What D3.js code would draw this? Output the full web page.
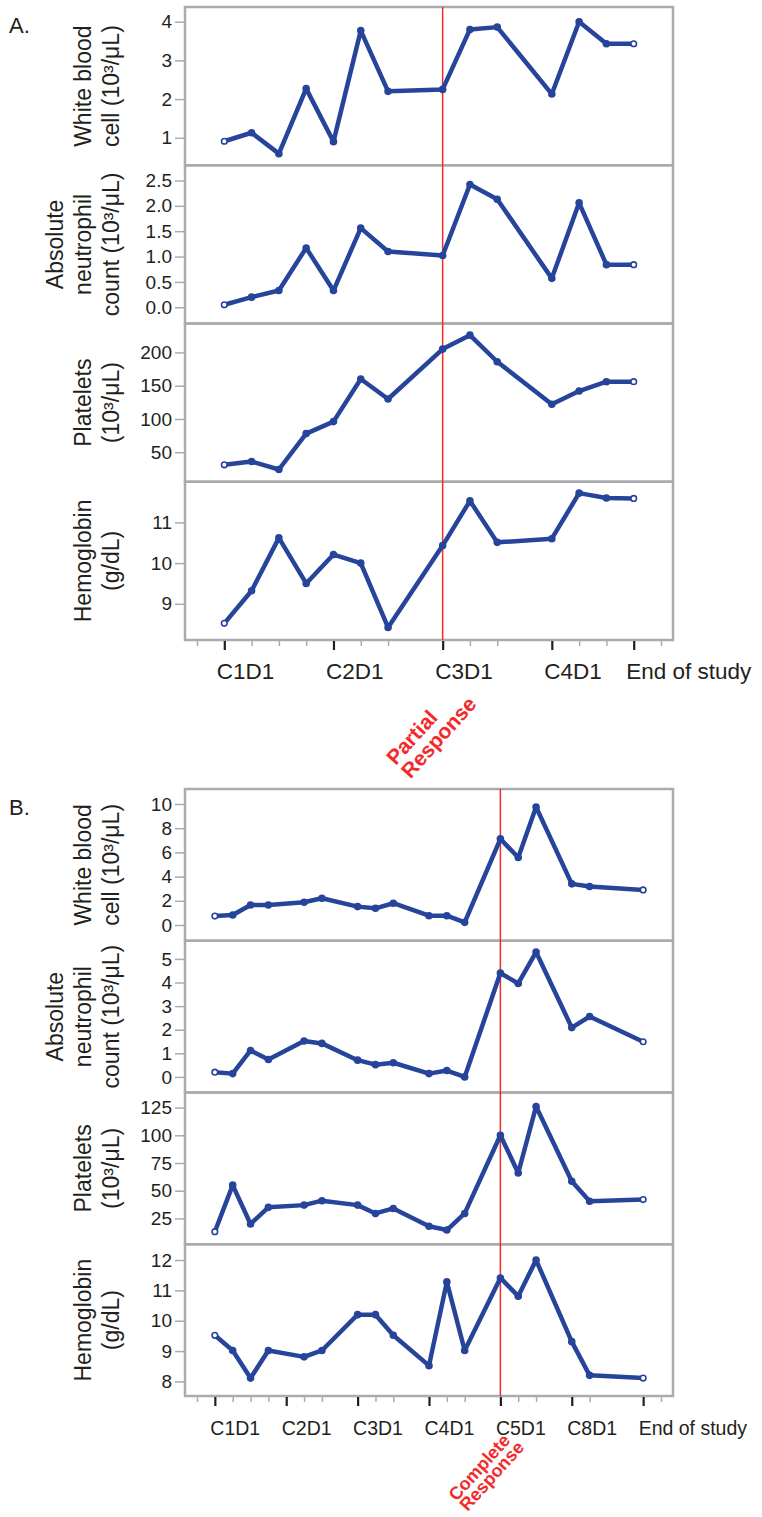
<!DOCTYPE html>
<html>
<head>
<meta charset="utf-8">
<script src="https://d3js.org/d3.v7.min.js"></script>
<style>
  body { margin: 0; background: #fff; }
  svg { font-family: "Liberation Sans", Arial, sans-serif; }
  .frame { fill: none; stroke: #a9acae; stroke-width: 2.5; }
  .lab { fill: #231f20; }
</style>
</head>
<body>
<svg id="chart" width="762" height="1517"></svg>
<script>
// ---- panel A data (visit index on x) ----
const visitsA = [1, 2, 3, 4, 5, 6, 7, 9, 10, 11, 13, 14, 15, 16];
const wbcA = [0.91, 1.13, 0.59, 2.27, 0.90, 3.77, 2.20, 2.25, 3.80, 3.86, 2.13, 4.00, 3.43, 3.43];
const ancA = [0.05, 0.20, 0.33, 1.17, 0.33, 1.56, 1.10, 1.02, 2.42, 2.13, 0.57, 2.06, 0.84, 0.84];
const pltA = [31, 36, 24, 78, 96, 160, 130, 205, 226, 186, 122, 142, 156, 156];
const hgbA = [8.52, 9.32, 10.62, 9.50, 10.21, 10.00, 8.42, 10.43, 11.53, 10.51, 10.60, 11.72, 11.60, 11.59];
const majorA = [1, 5, 9, 13, 16];
const labelsA = ["C1D1", "C2D1", "C3D1", "C4D1", "End of study"];
const responseA = 9;

// ---- panel B data ----
const visitsB = [0, 1, 2, 3, 5, 6, 8, 9, 10, 12, 13, 14, 16, 17, 18, 20, 21, 24];
const wbcB = [0.74, 0.83, 1.66, 1.66, 1.88, 2.21, 1.52, 1.38, 1.80, 0.77, 0.77, 0.22, 7.12, 5.58, 9.75, 3.40, 3.18, 2.90];
const ancB = [0.20, 0.14, 1.12, 0.74, 1.52, 1.42, 0.71, 0.52, 0.60, 0.14, 0.27, 0.00, 4.40, 3.96, 5.29, 2.09, 2.56, 1.49];
const pltB = [13, 55, 20, 35, 37, 41, 37, 29.5, 34, 18, 14.5, 29.5, 100, 66, 126, 58.5, 40.5, 42];
const hgbB = [9.52, 9.02, 8.11, 9.02, 8.81, 9.02, 10.2, 10.2, 9.52, 8.52, 11.28, 9.02, 11.41, 10.81, 12.0, 9.31, 8.2, 8.11];
const majorB = [0, 4, 8, 12, 16, 20, 24];
const labelsB = ["C1D1", "C2D1", "C3D1", "C4D1", "C5D1", "C8D1", "End of study"];
const responseB = 16;

// y tick values
const wbcTicksA = [1, 2, 3, 4];
const ancTicksA = [0, 0.5, 1, 1.5, 2, 2.5];
const pltTicksA = [50, 100, 150, 200];
const hgbTicksA = [9, 10, 11];
const wbcTicksB = [0, 2, 4, 6, 8, 10];
const ancTicksB = [0, 1, 2, 3, 4, 5];
const pltTicksB = [25, 50, 75, 100, 125];
const hgbTicksB = [8, 9, 10, 11, 12];

const titles = [
  ["White blood", "cell (10³/μL)"],
  ["Absolute", "neutrophil", "count (10³/μL)"],
  ["Platelets", "(10³/μL)"],
  ["Hemoglobin", "(g/dL)"]
];

const svg = d3.select("#chart");
const blue = "#27449b";
const red = "#f42a2a";
const frameLeft = 185, frameRight = 673;

function drawFigure(opt) {
  const g = svg.append("g");
  const x = d3.scaleLinear().domain(opt.xDomain).range([frameLeft + 12, frameRight - 12]);
  const panelH = (opt.bottom - opt.top) / opt.series.length;

  opt.series.forEach((s, i) => {
    const top = opt.top + i * panelH;
    const y = d3.scaleLinear().domain(s.domain).range([top + panelH, top]);

    g.append("rect").attr("class", "frame")
      .attr("x", frameLeft).attr("y", top)
      .attr("width", frameRight - frameLeft).attr("height", panelH);

    const ay = g.append("g").attr("transform", `translate(${frameLeft - 1},0)`)
      .call(d3.axisLeft(y).tickValues(s.ticks).tickSize(9).tickPadding(3)
        .tickFormat(d3.format(s.fmt)));
    ay.select(".domain").remove();
    ay.selectAll("line").attr("stroke", "#a9acae").attr("stroke-width", 1.5);
    ay.selectAll("text").attr("class", "lab").attr("font-size", 19).attr("font-family", null);

    const t = g.append("text").attr("class", "lab")
      .attr("transform", `translate(0,${top + panelH / 2}) rotate(-90)`)
      .attr("text-anchor", "middle").attr("font-size", 23);
    s.title.forEach((line, j) => {
      t.append("tspan").attr("x", 0).attr("y", 119 - (s.title.length - 1 - j) * 28).text(line);
    });
  });

  // response marker
  g.append("line")
    .attr("x1", x(opt.response)).attr("x2", x(opt.response))
    .attr("y1", opt.top).attr("y2", opt.bottom)
    .attr("stroke", red).attr("stroke-width", 1.5);

  opt.series.forEach((s, i) => {
    const top = opt.top + i * panelH;
    const y = d3.scaleLinear().domain(s.domain).range([top + panelH, top]);
    const pts = opt.visits.map((v, k) => ({ v: v, val: s.values[k] }));
    g.append("path").datum(pts)
      .attr("fill", "none").attr("stroke", blue).attr("stroke-width", 4.5)
      .attr("stroke-linejoin", "round")
      .attr("d", d3.line().x(d => x(d.v)).y(d => y(d.val)));
    g.selectAll(null).data(pts).join("circle")
      .attr("cx", d => x(d.v)).attr("cy", d => y(d.val))
      .attr("r", (d, k) => (k === 0 || k === pts.length - 1) ? 2.8 : 3)
      .attr("fill", (d, k) => (k === 0 || k === pts.length - 1) ? "#fff" : blue)
      .attr("stroke", blue).attr("stroke-width", 1.6);
  });

  // x axis: minor ticks at visits, major with labels
  const minor = [opt.xDomain[0], ...opt.visits, opt.xDomain[1]].filter(v => !opt.major.includes(v));
  const axMinor = g.append("g").attr("transform", `translate(0,${opt.bottom + 1})`)
    .call(d3.axisBottom(x).tickValues(minor).tickSize(5).tickFormat(""));
  axMinor.select(".domain").remove();
  axMinor.selectAll("line").attr("stroke", "#a9acae").attr("stroke-width", 1.5);

  const axMajor = g.append("g").attr("transform", `translate(0,${opt.bottom + 1})`)
    .call(d3.axisBottom(x).tickValues(opt.major).tickSize(9).tickPadding(0)
      .tickFormat((d, k) => opt.labels[k]));
  axMajor.select(".domain").remove();
  axMajor.selectAll("line").attr("stroke", "#231f20").attr("stroke-width", 2.2);
  axMajor.selectAll("text").attr("class", "lab")
    .attr("text-anchor", "start").attr("x", opt.labelDx)
    .attr("y", opt.labelY).attr("dy", null)
    .attr("font-size", opt.labelSize).attr("font-family", null);

  // response annotation
  const ann = g.append("text")
    .attr("transform", `translate(${x(opt.response) + opt.annDx},${opt.annY}) rotate(-48)`)
    .attr("fill", red).attr("font-weight", "bold").attr("font-size", opt.annSize);
  opt.annotation.forEach((line, j) => {
    ann.append("tspan").attr("x", 0).attr("y", j * opt.annGap).text(line);
  });

  svg.append("text").attr("class", "lab").attr("x", 9).attr("y", opt.top + 26)
    .attr("font-size", 22).text(opt.letter);
}

drawFigure({
  letter: "A.", top: 7, bottom: 640, xDomain: [0, 17],
  visits: visitsA, major: majorA, labels: labelsA, response: responseA,
  labelDx: -8, labelY: 38, labelSize: 22.5,
  annotation: ["Partial", "Response"], annDx: -47, annY: 766, annSize: 21, annGap: 20,
  series: [
    { values: wbcA, ticks: wbcTicksA, domain: [0.29, 4.38], fmt: "d", title: titles[0] },
    { values: ancA, ticks: ancTicksA, domain: [-0.32, 2.80], fmt: ".1f", title: titles[1] },
    { values: pltA, ticks: pltTicksA, domain: [5.6, 243.5], fmt: "d", title: titles[2] },
    { values: hgbA, ticks: hgbTicksA, domain: [8.11, 12.0], fmt: "d", title: titles[3] }
  ]
});

drawFigure({
  letter: "B.", top: 789, bottom: 1396, xDomain: [-1, 25],
  visits: visitsB, major: majorB, labels: labelsB, response: responseB,
  labelDx: -5, labelY: 38, labelSize: 19.5,
  annotation: ["Complete", "Response"], annDx: -44, annY: 1502, annSize: 18, annGap: 15,
  series: [
    { values: wbcB, ticks: wbcTicksB, domain: [-1.3, 11.24], fmt: "d", title: titles[0] },
    { values: ancB, ticks: ancTicksB, domain: [-0.66, 5.77], fmt: "d", title: titles[1] },
    { values: pltB, ticks: pltTicksB, domain: [1.7, 138.6], fmt: "d", title: titles[2] },
    { values: hgbB, ticks: hgbTicksB, domain: [7.52, 12.52], fmt: "d", title: titles[3] }
  ]
});
</script>
</body>
</html>
